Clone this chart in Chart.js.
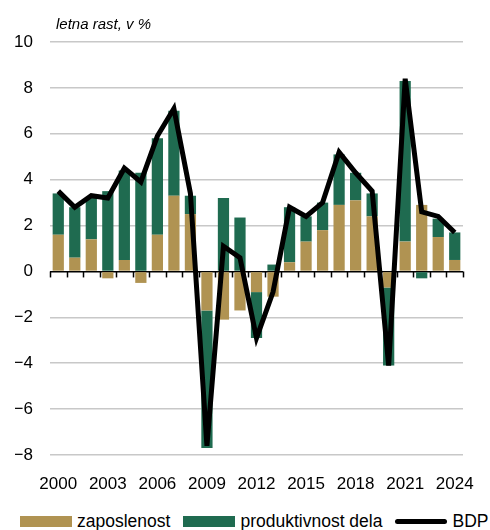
<!DOCTYPE html>
<html>
<head>
<meta charset="utf-8">
<script src="https://cdn.jsdelivr.net/npm/chart.js@4.4.1/dist/chart.umd.min.js"></script>
<style>
  body { margin: 0; background: #fff; }
  #wrap { position: relative; width: 490px; height: 530px; overflow: hidden; }
  #legend { position: absolute; left: 20px; top: 511px; display: flex; align-items: center;
            font: 17.5px "Liberation Sans", Arial, sans-serif; color: #000; white-space: nowrap; }
  #legend .item { display: flex; align-items: center; margin-right: 13px; flex: none; }
  #legend .box { width: 52px; height: 11px; margin-right: 5px; }
  #legend .line { width: 52px; height: 5px; border-radius: 3px; background: #000; margin-right: 5px; }
</style>
</head>
<body>
<div id="wrap">
  <canvas id="chart" width="490" height="505"></canvas>
  <div id="legend">
    <div class="item"><span class="box" style="background: rgb(176,147,82)"></span>zaposlenost</div>
    <div class="item"><span class="box" style="background: rgb(31,107,80)"></span>produktivnost dela</div>
    <div class="item"><span class="line"></span>BDP</div>
  </div>
</div>
<script>
var years = ['2000', '2001', '2002', '2003', '2004', '2005', '2006', '2007', '2008', '2009', '2010', '2011', '2012',
             '2013', '2014', '2015', '2016', '2017', '2018', '2019', '2020', '2021', '2022', '2023', '2024'];
var zaposlenost = [1.6, 0.6, 1.4, -0.3, 0.5, -0.5, 1.6, 3.3, 2.5, -1.7, -2.1, -1.7, -0.9,
                   -1.1, 0.4, 1.3, 1.8, 2.9, 3.1, 2.4, -0.7, 1.3, 2.9, 1.5, 0.5];
var produktivnost = [1.8, 2.2, 1.8, 3.5, 3.9, 4.3, 4.2, 3.7, 0.8, -6.0, 3.2, 2.35, -2.0,
                     0.3, 2.4, 1.1, 1.2, 2.2, 1.2, 1.0, -3.4, 7.0, -0.3, 0.8, 1.2];
var bdp = [3.5, 2.8, 3.3, 3.2, 4.5, 3.9, 5.9, 7.1, 3.4, -7.6, 1.1, 0.6, -2.9,
           -0.9, 2.8, 2.4, 3.0, 5.2, 4.3, 3.5, -4.1, 8.4, 2.6, 2.4, 1.7];

var tan = 'rgb(176, 147, 82)';
var green = 'rgb(31, 107, 80)';

Chart.defaults.font.family = '"Liberation Sans", Arial, sans-serif';
Chart.defaults.font.size = 17;
Chart.defaults.color = '#000';

// zero line tick marks + the little title over the plot
var extras = {
    id: 'extras',
    beforeDatasetsDraw: function (chart) {
        var ctx = chart.ctx;
        var x = chart.scales.x, y = chart.scales.y;
        var y0 = y.getPixelForValue(0);
        var step = (x.right - x.left) / years.length;
        ctx.save();
        ctx.strokeStyle = '#000';
        ctx.lineWidth = 1.5;
        for (var i = 0; i <= years.length; i++) {
            var px = Math.round(x.left + i * step) + 0.5;
            ctx.beginPath();
            ctx.moveTo(px, y0);
            ctx.lineTo(px, y0 + 6);
            ctx.stroke();
        }
        ctx.restore();
    },
    afterDraw: function (chart) {
        var ctx = chart.ctx;
        ctx.save();
        ctx.font = 'italic 15px "Liberation Sans", Arial, sans-serif';
        ctx.fillStyle = '#000';
        ctx.textBaseline = 'alphabetic';
        ctx.fillText('letna rast, v %', chart.chartArea.left + 6, 29);
        ctx.restore();
    }
};

var chart = new Chart(document.getElementById('chart'), {
    type: 'bar',
    data: {
        labels: years,
        datasets: [{
            type: 'line',
            label: 'BDP',
            data: bdp,
            borderColor: '#000',
            borderWidth: 5,
            pointRadius: 0,
            tension: 0,
            order: 0
        }, {
            label: 'zaposlenost',
            data: zaposlenost,
            backgroundColor: tan,
            stack: 's',
            order: 1
        }, {
            label: 'produktivnost dela',
            data: produktivnost,
            backgroundColor: green,
            stack: 's',
            order: 2
        }]
    },
    options: {
        responsive: false,
        animation: false,
        layout: { padding: { left: 15, top: 42, right: 27, bottom: 10 } },
        datasets: { bar: { categoryPercentage: 1, barPercentage: 0.68 } },
        plugins: {
            legend: { display: false },
            tooltip: { enabled: false }
        },
        scales: {
            x: {
                stacked: true,
                grid: { display: false },
                border: { display: false },
                afterFit: function (s) { s.height = 40; },
                ticks: {
                    autoSkip: false,
                    maxRotation: 0,
                    padding: 11,
                    callback: function (v, i) { return i % 3 === 0 ? years[i] : ''; }
                }
            },
            y: {
                stacked: true,
                min: -8,
                max: 10,
                border: { display: false },
                afterFit: function (s) { s.width = 35; },
                grid: {
                    drawTicks: false,
                    lineWidth: 1.5,
                    color: function (c) { return c.tick && c.tick.value === 0 ? '#000' : 'rgb(200, 200, 200)'; }
                },
                ticks: {
                    stepSize: 2,
                    padding: 17,
                    callback: function (v) { return String(v).replace('-', '\u2212'); }
                }
            }
        }
    },
    plugins: [extras]
});
</script>
</body>
</html>
